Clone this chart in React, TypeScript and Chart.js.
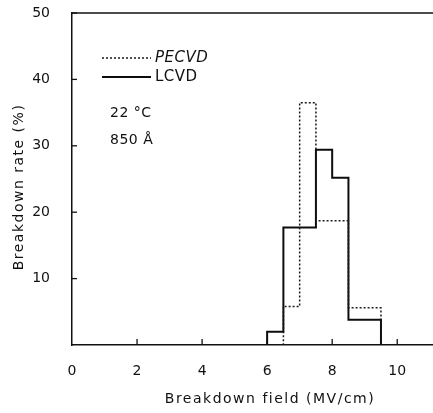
import { useEffect, useRef } from "react";
import { Chart, registerables } from "chart.js";

Chart.register(...registerables);

const binStarts = [6.0, 6.5, 7.0, 7.5, 8.0, 8.5, 9.0];
const binWidth = 0.5;
const pecvdRates = [0, 5.8, 36.5, 18.7, 18.7, 5.6, 5.6];
const lcvdRates = [2.0, 17.7, 17.7, 29.4, 25.2, 3.8, 3.8];
const xTicks = [0, 2, 4, 6, 8, 10];
const yTicks = [10, 20, 30, 40, 50];
const seriesLabels = ["PECVD", "LCVD"];
const notes = ["22 °C", "850 Å"];
const xTitle = "Breakdown field (MV/cm)";
const yTitle = "Breakdown rate (%)";

const INK = "#111";
const FONT = "DejaVu Sans";

function outline(rates: number[]) {
  const pts: { x: number; y: number }[] = [{ x: binStarts[0], y: 0 }];
  binStarts.forEach((s, i) => pts.push({ x: s + binWidth, y: rates[i] }));
  const end = binStarts[binStarts.length - 1] + binWidth;
  pts.push({ x: end, y: 0 });
  return pts;
}

const framePlugin = {
  id: "frame",
  afterDraw(chart: any) {
    const { ctx, chartArea } = chart;
    const xs = chart.scales.x;
    const ys = chart.scales.y;
    ctx.save();
    ctx.strokeStyle = INK;
    ctx.lineWidth = 1.5;
    // top border
    ctx.beginPath();
    ctx.moveTo(chartArea.left, chartArea.top);
    ctx.lineTo(chartArea.right, chartArea.top);
    ctx.stroke();
    // inward ticks
    ctx.lineWidth = 1.3;
    yTicks.forEach((v) => {
      const py = ys.getPixelForValue(v);
      ctx.beginPath();
      ctx.moveTo(chartArea.left, py);
      ctx.lineTo(chartArea.left + 5, py);
      ctx.stroke();
    });
    xTicks.forEach((v) => {
      if (v === 0) return;
      const px = xs.getPixelForValue(v);
      ctx.beginPath();
      ctx.moveTo(px, chartArea.bottom);
      ctx.lineTo(px, chartArea.bottom - 6);
      ctx.stroke();
    });
    // legend
    const ds = chart.data.datasets;
    const legendY = [58, 77];
    ds.forEach((d: any, i: number) => {
      ctx.save();
      ctx.strokeStyle = d.borderColor;
      ctx.lineWidth = d.borderWidth;
      ctx.setLineDash(d.borderDash || []);
      ctx.beginPath();
      ctx.moveTo(102, legendY[i]);
      ctx.lineTo(151, legendY[i]);
      ctx.stroke();
      ctx.restore();
      ctx.fillStyle = INK;
      ctx.font = (i === 0 ? "italic " : "") + `15px ${FONT}`;
      ctx.textBaseline = "middle";
      ctx.textAlign = "left";
      (ctx as any).letterSpacing = "0.5px";
      ctx.fillText(d.label, 155, legendY[i]);
    });
    // notes
    ctx.font = `14px ${FONT}`;
    ctx.fillText(notes[0], 110, 113);
    ctx.fillText(notes[1], 110, 140);
    // axis titles
    (ctx as any).letterSpacing = "1.5px";
    ctx.textAlign = "center";
    ctx.font = `14px ${FONT}`;
    ctx.fillText(xTitle, 270, 399);
    ctx.save();
    ctx.translate(19, 187);
    ctx.rotate(-Math.PI / 2);
    ctx.fillText(yTitle, 0, 0);
    ctx.restore();
    ctx.restore();
  },
};

export default function App() {
  const ref = useRef<HTMLCanvasElement | null>(null);
  useEffect(() => {
    if (!ref.current) return;
    const chart = new Chart(ref.current, {
      type: "line",
      data: {
        datasets: [
          {
            label: seriesLabels[0],
            data: outline(pecvdRates),
            stepped: "after",
            borderColor: "#1a1a1a",
            borderWidth: 1.5,
            borderDash: [2, 2],
            pointRadius: 0,
            fill: false,
          },
          {
            label: seriesLabels[1],
            data: outline(lcvdRates),
            stepped: "after",
            borderColor: "#0d0d0d",
            borderWidth: 2,
            pointRadius: 0,
            fill: false,
          },
        ],
      },
      options: {
        animation: false,
        responsive: true,
        maintainAspectRatio: false,
        layout: { padding: { top: 13, right: 0, left: 0, bottom: 0 } },
        plugins: { legend: { display: false }, tooltip: { enabled: false } },
        scales: {
          x: {
            type: "linear",
            min: 0,
            max: 11.1,
            afterBuildTicks: (s: any) => {
              s.ticks = xTicks.map((v) => ({ value: v }));
            },
            afterFit: (s: any) => {
              s.height = 68;
              s.paddingLeft = 0;
              s.paddingRight = 0;
            },
            grid: { display: false },
            border: { display: true, color: INK, width: 1.5 },
            ticks: {
              color: INK,
              font: { family: FONT, size: 14 },
              padding: 10,
              maxRotation: 0,
            },
          },
          y: {
            type: "linear",
            min: 0,
            max: 50,
            afterBuildTicks: (s: any) => {
              s.ticks = yTicks.map((v) => ({ value: v }));
            },
            afterFit: (s: any) => {
              s.width = 72;
              s.paddingTop = 0;
              s.paddingBottom = 0;
            },
            grid: { display: false },
            border: { display: true, color: INK, width: 1.5 },
            ticks: {
              color: INK,
              font: { family: FONT, size: 14 },
              padding: 14,
            },
          },
        },
      },
      plugins: [framePlugin],
    });
    return () => chart.destroy();
  }, []);
  return (
    <div style={{ position: "fixed", left: 0, top: 0, width: 433, height: 413, background: "#fff" }}>
      <canvas ref={ref} />
    </div>
  );
}
